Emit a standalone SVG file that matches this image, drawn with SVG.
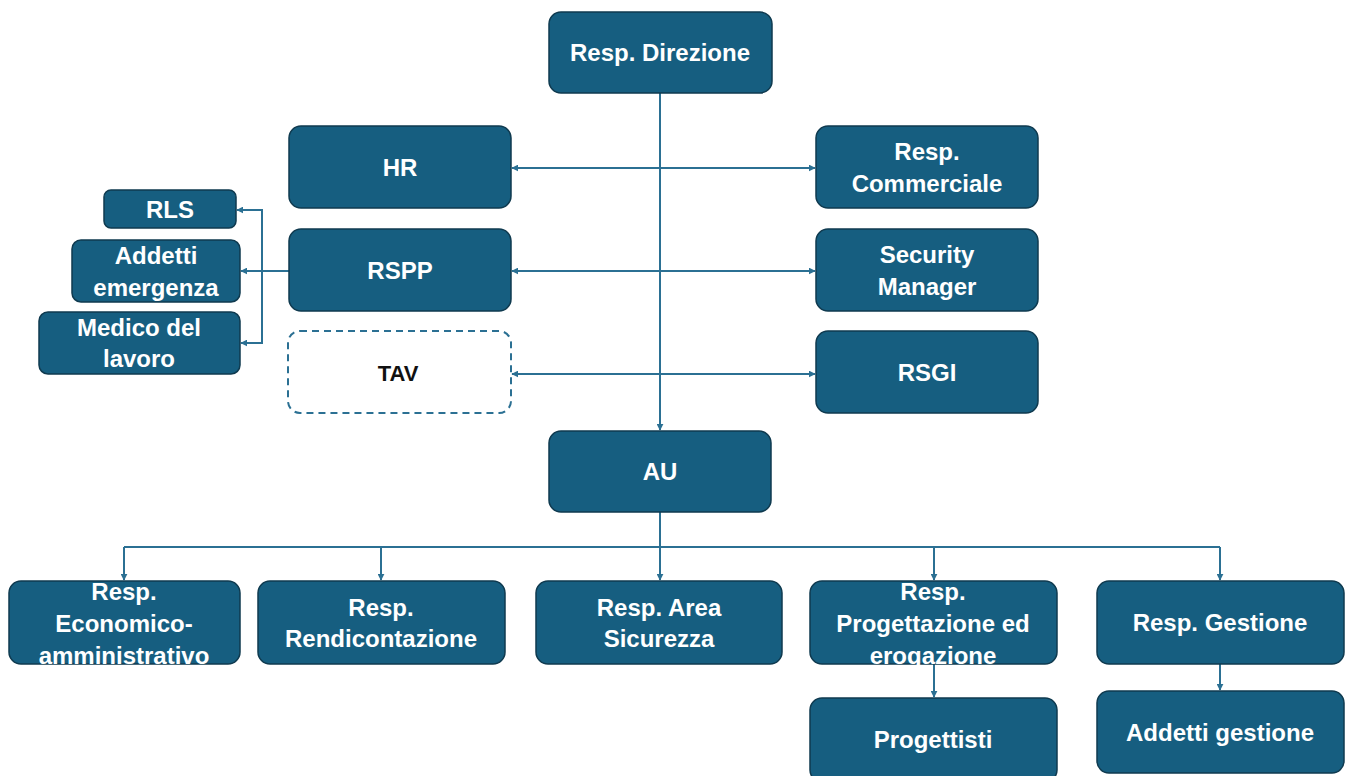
<svg xmlns="http://www.w3.org/2000/svg" width="1352" height="776" viewBox="0 0 1352 776">
<defs>
<marker id="arr" viewBox="0 0 10 10" refX="9" refY="5" markerWidth="7" markerHeight="7" markerUnits="userSpaceOnUse" orient="auto-start-reverse">
<path d="M0,0 L10,5 L0,10 z" fill="#2b7093"/>
</marker>
<style>
.box{fill:#165e80;stroke:#0f3a4f;stroke-width:1.5}
.dash{fill:#ffffff;stroke:#2b7093;stroke-width:2;stroke-dasharray:7 5}
.t{font-family:"Liberation Sans",Arial,sans-serif;font-weight:bold;font-size:24px;fill:#ffffff;text-anchor:middle}
.tk{fill:#111111;font-size:22px}
.c{fill:none;stroke:#2b7093;stroke-width:2}
</style>
</defs>
<rect width="1352" height="776" fill="#ffffff"/>
<g id="connectors">
<path class="c" d="M660,93 V430" marker-end="url(#arr)"/>
<path class="c" d="M512,168 H815" marker-start="url(#arr)" marker-end="url(#arr)"/>
<path class="c" d="M512,271 H815" marker-start="url(#arr)" marker-end="url(#arr)"/>
<path class="c" d="M512,374 H815" marker-start="url(#arr)" marker-end="url(#arr)"/>
<path class="c" d="M289,271 H241" marker-end="url(#arr)"/>
<path class="c" d="M262,271 V210 H237" marker-end="url(#arr)"/>
<path class="c" d="M262,271 V343 H241" marker-end="url(#arr)"/>
<path class="c" d="M660,512 V547"/>
<path class="c" d="M124,547 H1220"/>
<path class="c" d="M124,547 V580" marker-end="url(#arr)"/>
<path class="c" d="M381,547 V580" marker-end="url(#arr)"/>
<path class="c" d="M660,547 V580" marker-end="url(#arr)"/>
<path class="c" d="M934,547 V580" marker-end="url(#arr)"/>
<path class="c" d="M1220,547 V580" marker-end="url(#arr)"/>
<path class="c" d="M934,664 V697" marker-end="url(#arr)"/>
<path class="c" d="M1220,664 V690" marker-end="url(#arr)"/>
</g>
<g id="resp-direzione"><rect class="box" x="549" y="12" width="223" height="81" rx="12"/><text class="t" x="660" y="61">Resp. Direzione</text></g>
<g id="hr"><rect class="box" x="289" y="126" width="222" height="82" rx="12"/><text class="t" x="400" y="176">HR</text></g>
<g id="resp-commerciale"><rect class="box" x="816" y="126" width="222" height="82" rx="12"/><text class="t" x="927" y="160">Resp.</text><text class="t" x="927" y="192">Commerciale</text></g>
<g id="rspp"><rect class="box" x="289" y="229" width="222" height="82" rx="12"/><text class="t" x="400" y="279">RSPP</text></g>
<g id="security-manager"><rect class="box" x="816" y="229" width="222" height="82" rx="12"/><text class="t" x="927" y="263">Security</text><text class="t" x="927" y="295">Manager</text></g>
<g id="tav"><rect class="dash" x="288" y="331" width="223" height="82" rx="12"/><text class="t tk" x="398" y="381">TAV</text></g>
<g id="rsgi"><rect class="box" x="816" y="331" width="222" height="82" rx="12"/><text class="t" x="927" y="381">RSGI</text></g>
<g id="rls"><rect class="box" x="104" y="190" width="132" height="38" rx="7"/><text class="t" x="170" y="218">RLS</text></g>
<g id="addetti-emergenza"><rect class="box" x="72" y="240" width="168" height="62" rx="9"/><text class="t" x="156" y="264">Addetti</text><text class="t" x="156" y="296">emergenza</text></g>
<g id="medico-lavoro"><rect class="box" x="39" y="312" width="201" height="62" rx="9"/><text class="t" x="139" y="336">Medico del</text><text class="t" x="139" y="367">lavoro</text></g>
<g id="au"><rect class="box" x="549" y="431" width="222" height="81" rx="12"/><text class="t" x="660" y="480">AU</text></g>
<g id="resp-economico"><rect class="box" x="9" y="581" width="231" height="83" rx="12"/><text class="t" x="124" y="600">Resp.</text><text class="t" x="124" y="632">Economico-</text><text class="t" x="124" y="664">amministrativo</text></g>
<g id="resp-rendicontazione"><rect class="box" x="258" y="581" width="247" height="83" rx="12"/><text class="t" x="381" y="616">Resp.</text><text class="t" x="381" y="647">Rendicontazione</text></g>
<g id="resp-area-sicurezza"><rect class="box" x="536" y="581" width="246" height="83" rx="12"/><text class="t" x="659" y="616">Resp. Area</text><text class="t" x="659" y="647">Sicurezza</text></g>
<g id="resp-progettazione"><rect class="box" x="810" y="581" width="247" height="83" rx="12"/><text class="t" x="933" y="600">Resp.</text><text class="t" x="933" y="632">Progettazione ed</text><text class="t" x="933" y="664">erogazione</text></g>
<g id="resp-gestione"><rect class="box" x="1097" y="581" width="247" height="83" rx="12"/><text class="t" x="1220" y="631">Resp. Gestione</text></g>
<g id="progettisti"><rect class="box" x="810" y="698" width="247" height="84" rx="12"/><text class="t" x="933" y="748">Progettisti</text></g>
<g id="addetti-gestione"><rect class="box" x="1097" y="691" width="247" height="82" rx="12"/><text class="t" x="1220" y="741">Addetti gestione</text></g>
</svg>
